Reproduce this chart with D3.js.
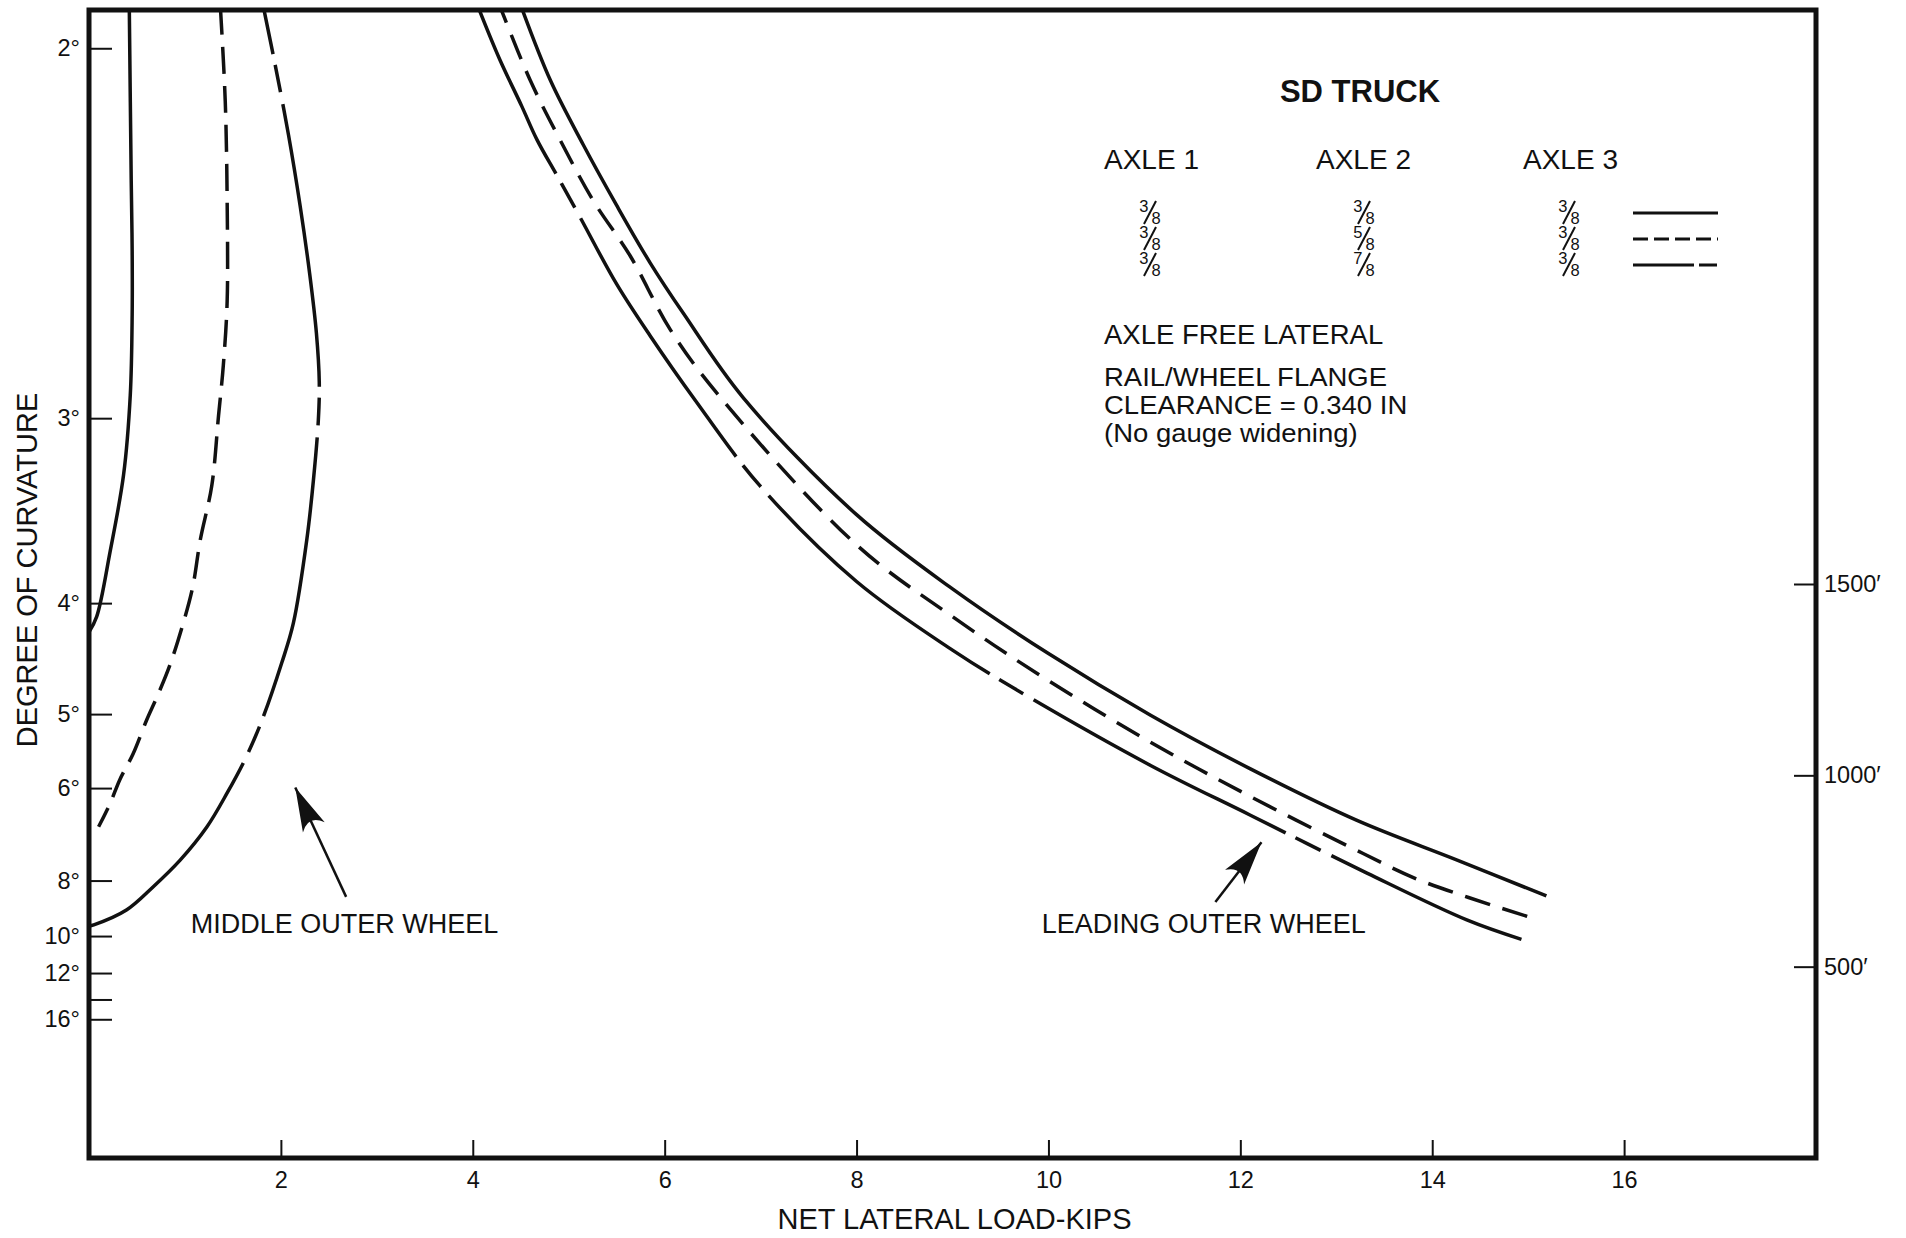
<!DOCTYPE html>
<html>
<head>
<meta charset="utf-8">
<script src="https://cdn.jsdelivr.net/npm/d3@7/dist/d3.min.js"></script>
<style>
  body { margin: 0; background: #fff; }
  svg text { font-family: "Liberation Sans", Arial, Helvetica, sans-serif; fill: #111; }
</style>
</head>
<body>
<svg id="chart" width="1906" height="1238"></svg>
<script>
// degree of curvature <-> radius (ft); the vertical scale is linear in radius
const DEG_FT = 5800;

// middle outer wheel (load in kips, curvature in degrees)
const midSolidLoad = [0.42, 0.44, 0.45, 0.45, 0.43, 0.36, 0.22, 0.08, 0.0];
const midSolidDeg  = [1.93, 2.27, 2.45, 2.63, 2.91, 3.25, 3.66, 4.10, 4.22];
const midDashLoad = [1.37, 1.42, 1.44, 1.44, 1.40, 1.35, 1.28, 1.16, 1.08, 0.97, 0.84, 0.71, 0.60, 0.46, 0.32, 0.22, 0.10];
const midDashDeg  = [1.93, 2.10, 2.32, 2.59, 2.80, 2.99, 3.30, 3.59, 3.89, 4.18, 4.51, 4.81, 5.07, 5.49, 5.87, 6.26, 6.70];
const midLongLoad = [1.82, 1.94, 2.08, 2.20, 2.30, 2.37, 2.40, 2.39, 2.34, 2.27, 2.13, 2.01, 1.81, 1.64, 1.44, 1.23, 0.95, 0.67, 0.39, 0.05, 0.0];
const midLongDeg  = [1.93, 2.03, 2.17, 2.33, 2.51, 2.69, 2.86, 3.01, 3.27, 3.59, 4.15, 4.48, 5.05, 5.53, 6.08, 6.70, 7.45, 8.18, 8.95, 9.52, 9.57];

// leading outer wheel
const leadSolidLoad = [4.51, 4.81, 5.15, 5.50, 5.85, 6.20, 6.82, 8.0, 9.0, 10.0, 11.06, 12.10, 13.21, 14.26, 15.19];
const leadSolidDeg  = [1.93, 2.06, 2.19, 2.33, 2.48, 2.63, 2.92, 3.45, 3.90, 4.40, 5.01, 5.70, 6.57, 7.45, 8.47];
const leadDashLoad = [4.29, 4.60, 4.91, 5.26, 5.64, 6.06, 6.54, 8.0, 9.0, 10.0, 11.11, 12.07, 13.28, 13.87, 15.02];
const leadDashDeg  = [1.93, 2.06, 2.18, 2.32, 2.46, 2.68, 2.90, 3.62, 4.10, 4.65, 5.37, 6.11, 7.29, 7.99, 9.22];
const leadLongLoad = [4.06, 4.28, 4.51, 4.67, 4.88, 5.12, 5.50, 5.85, 6.32, 6.99, 8.0, 9.0, 9.65, 11.06, 12.10, 13.32, 14.36, 14.93];
const leadLongDeg  = [1.93, 2.02, 2.11, 2.18, 2.26, 2.36, 2.54, 2.70, 2.93, 3.30, 3.85, 4.37, 4.73, 5.65, 6.47, 7.79, 9.32, 10.15];

// axes
const loadTicks = [2, 4, 6, 8, 10, 12, 14, 16];
const degTicks = [2, 3, 4, 5, 6, 8, 10, 12, 14, 16];
const degLabels = ["2°", "3°", "4°", "5°", "6°", "8°", "10°", "12°", "", "16°"];
const radiusTicks = [500, 1000, 1500];

// legend: free lateral (in.) per axle, one row per curve
const axleHeads = ["AXLE 1", "AXLE 2", "AXLE 3"];
const axleRows = [["3/8", "3/8", "3/8"], ["3/8", "5/8", "3/8"], ["3/8", "7/8", "3/8"]];
const noteLines = ["RAIL/WHEEL FLANGE", "CLEARANCE = 0.340 IN", "(No gauge widening)"];

const margin = {top: 10, right: 90, bottom: 80, left: 89};
const width = 1906, height = 1238;
const svg = d3.select("#chart");

const x = d3.scaleLinear().domain([0, 18]).range([margin.left, width - margin.right]);
const y = d3.scaleLinear().domain([0, 3000]).range([height - margin.bottom, margin.top]);
const toFt = deg => DEG_FT / deg;

svg.append("clipPath").attr("id", "plot")
  .append("rect")
  .attr("x", x(0)).attr("y", y(3000))
  .attr("width", x(18) - x(0)).attr("height", y(0) - y(3000));

// left axis: degree of curvature
const leftAxis = svg.append("g")
  .attr("transform", "translate(" + x(0) + ",0)")
  .call(d3.axisLeft(y)
    .tickValues(degTicks.map(toFt))
    .tickFormat((d, i) => degLabels[i])
    .tickSizeInner(-23).tickSizeOuter(0).tickPadding(9));

// bottom axis: net lateral load
const bottomAxis = svg.append("g")
  .attr("transform", "translate(0," + y(0) + ")")
  .call(d3.axisBottom(x)
    .tickValues(loadTicks)
    .tickFormat(d3.format("d"))
    .tickSizeInner(-18).tickSizeOuter(0).tickPadding(13));

// right axis: radius in feet
const rightAxis = svg.append("g")
  .attr("transform", "translate(" + x(18) + ",0)")
  .call(d3.axisRight(y)
    .tickValues(radiusTicks)
    .tickFormat(d => d + "′")
    .tickSizeInner(-22).tickSizeOuter(0).tickPadding(8));

[leftAxis, bottomAxis, rightAxis].forEach(g => {
  g.select(".domain").remove();
  g.attr("font-family", null);
  g.selectAll("line").attr("stroke", "#111").attr("stroke-width", 2);
  g.selectAll("text").attr("font-size", 23.5);
});

// frame
svg.append("rect")
  .attr("x", x(0)).attr("y", y(3000))
  .attr("width", x(18) - x(0)).attr("height", y(0) - y(3000))
  .attr("fill", "none").attr("stroke", "#111").attr("stroke-width", 5);

// curves
const line = d3.line()
  .x(d => x(d[0]))
  .y(d => y(toFt(d[1])))
  .curve(d3.curveCatmullRom.alpha(0.5));

const series = [
  {load: midSolidLoad, deg: midSolidDeg, dash: null, off: 0},
  {load: midDashLoad, deg: midDashDeg, dash: "27,12", off: 0},
  {load: midLongLoad, deg: midLongDeg, dash: "285,11,28,12", off: 238},
  {load: leadSolidLoad, deg: leadSolidDeg, dash: null, off: 0},
  {load: leadDashLoad, deg: leadDashDeg, dash: "26,13", off: 10},
  {load: leadLongLoad, deg: leadLongDeg, dash: "285,11,28,12", off: 102}
];

const curves = svg.append("g").attr("clip-path", "url(#plot)");
curves.selectAll("path")
  .data(series)
  .enter()
  .append("path")
  .attr("d", s => line(s.load.map((v, i) => [v, s.deg[i]])))
  .attr("fill", "none")
  .attr("stroke", "#111")
  .attr("stroke-width", 3.5)
  .attr("stroke-dasharray", s => s.dash)
  .attr("stroke-dashoffset", s => s.off);

// axis titles
svg.append("text")
  .attr("x", (x(0) + x(18)) / 2 + 2).attr("y", 1229)
  .attr("text-anchor", "middle").attr("font-size", 29)
  .text("NET LATERAL LOAD-KIPS");

svg.append("text")
  .attr("transform", "translate(37," + 570 + ") rotate(-90)")
  .attr("text-anchor", "middle").attr("font-size", 29)
  .text("DEGREE OF CURVATURE");

// legend
const legend = svg.append("g");
legend.append("text")
  .attr("x", 1360).attr("y", 102)
  .attr("text-anchor", "middle").attr("font-size", 31).attr("font-weight", "bold")
  .text("SD TRUCK");

const colX = [1104, 1316, 1523];
const colMid = [1150, 1364, 1569];
legend.selectAll(".head")
  .data(axleHeads)
  .enter().append("text")
  .attr("x", (d, i) => colX[i]).attr("y", 169)
  .attr("font-size", 28)
  .text(d => d);

// stacked fractions: numerator up-left, slash, denominator down-right
const rowMid = [213, 239, 265];
axleRows.forEach((row, r) => {
  row.forEach((f, c) => {
    const [num, den] = f.split("/");
    const cx = colMid[c], cy = rowMid[r];
    legend.append("text")
      .attr("x", cx - 1.5).attr("y", cy - 1)
      .attr("text-anchor", "end").attr("font-size", 16.5)
      .text(num);
    legend.append("line")
      .attr("x1", cx - 6).attr("y1", cy + 11)
      .attr("x2", cx + 6).attr("y2", cy - 12)
      .attr("stroke", "#111").attr("stroke-width", 2);
    legend.append("text")
      .attr("x", cx + 1.5).attr("y", cy + 11)
      .attr("text-anchor", "start").attr("font-size", 16.5)
      .text(den);
  });
});

const sampleDash = [null, "15,6", "61,5,18"];
legend.selectAll(".sample")
  .data(sampleDash)
  .enter().append("line")
  .attr("x1", 1633).attr("x2", 1718)
  .attr("y1", (d, i) => rowMid[i]).attr("y2", (d, i) => rowMid[i])
  .attr("stroke", "#111").attr("stroke-width", 3)
  .attr("stroke-dasharray", d => d);

legend.append("text")
  .attr("x", 1104).attr("y", 344).attr("font-size", 27.5)
  .text("AXLE FREE LATERAL");

// tightly set note: slightly smaller type, stretched to the original width
const noteSize = 25.2;
legend.selectAll(".note")
  .data(noteLines)
  .enter().append("text")
  .attr("x", 1104).attr("y", (d, i) => 385.5 + i * 28.2)
  .attr("font-size", noteSize)
  .text(d => d)
  .each(function() {
    const w = this.getComputedTextLength();
    d3.select(this)
      .attr("textLength", w * 27.5 / noteSize)
      .attr("lengthAdjust", "spacingAndGlyphs");
  });

// annotations (positions in data units)
const defs = svg.append("defs");
defs.append("marker")
  .attr("id", "head")
  .attr("viewBox", "-46 -14 48 28")
  .attr("refX", 0).attr("refY", 0)
  .attr("markerWidth", 48).attr("markerHeight", 28)
  .attr("markerUnits", "userSpaceOnUse")
  .attr("orient", "auto")
  .append("path")
  .attr("d", "M0,0 L-44,-12 Q-30,0 -44,12 Z")
  .attr("fill", "#111");

const notes = [
  {text: "MIDDLE OUTER WHEEL", tx: 1.06, tdeg: 9.86, from: [2.68, 8.50], to: [2.15, 5.99]},
  {text: "LEADING OUTER WHEEL", tx: 9.93, tdeg: 9.86, from: [11.74, 8.67], to: [12.22, 7.03]}
];
notes.forEach(n => {
  svg.append("line")
    .attr("x1", x(n.from[0])).attr("y1", y(toFt(n.from[1])))
    .attr("x2", x(n.to[0])).attr("y2", y(toFt(n.to[1])))
    .attr("stroke", "#111").attr("stroke-width", 2.5)
    .attr("marker-end", "url(#head)");
  svg.append("text")
    .attr("x", x(n.tx)).attr("y", y(toFt(n.tdeg)))
    .attr("font-size", 27)
    .text(n.text);
});
</script>
</body>
</html>
